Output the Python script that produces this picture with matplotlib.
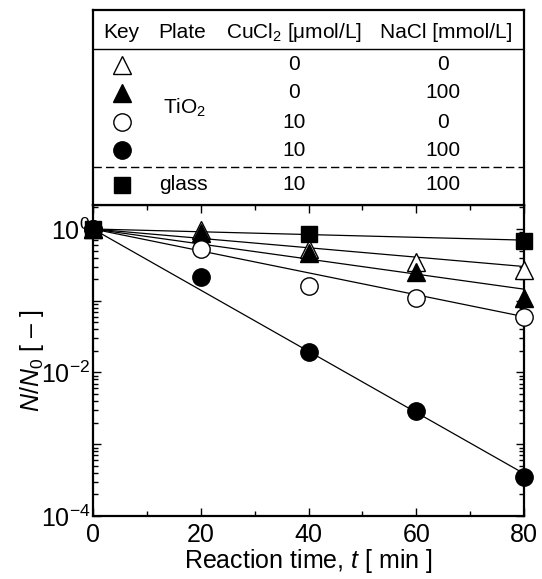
import matplotlib
matplotlib.use("Agg")
import matplotlib.pyplot as plt
import numpy as np
from matplotlib.ticker import LogLocator, FixedLocator, NullFormatter, MultipleLocator

plt.rcParams['font.family'] = ['Liberation Sans', 'DejaVu Sans']
plt.rcParams['mathtext.fontset'] = 'custom'
plt.rcParams['mathtext.rm'] = 'Liberation Sans'
plt.rcParams['mathtext.it'] = 'Liberation Sans:italic'
plt.rcParams['mathtext.bf'] = 'Liberation Sans:bold'

# ---- data ----
time_min = [0, 20, 40, 60, 80]
series_labels = ["TiO2, CuCl2 0, NaCl 0", "TiO2, CuCl2 0, NaCl 100",
                 "TiO2, CuCl2 10, NaCl 0", "TiO2, CuCl2 10, NaCl 100",
                 "glass, CuCl2 10, NaCl 100"]
open_triangle = [1.0, 0.97, 0.52, 0.35, 0.27]
filled_triangle = [1.0, 0.89, 0.46, 0.25, 0.11]
open_circle = [1.0, 0.52, 0.16, 0.108, 0.059]
filled_circle = [1.0, 0.216, 0.019, 0.0029, 3.5e-4]
filled_square = [1.0, None, 0.85, None, 0.67]
# fitted first-order lines: value at t=0 and t=80
fit_t = [0, 80]
fit_end = [0.30, 0.145, 0.060, 3.9e-4, 0.70]

# table content
tbl_header = ["Key", "Plate", "CuCl$_2$ [μmol/L]", "NaCl [mmol/L]"]
tbl_cucl2 = ["0", "0", "10", "10", "10"]
tbl_nacl = ["0", "100", "0", "100", "100"]
tbl_plate = [r"TiO$_2$", "glass"]

styles = [
    dict(marker='^', mfc='white', mec='black', ms=13),
    dict(marker='^', mfc='black', mec='black', ms=13),
    dict(marker='o', mfc='white', mec='black', ms=12.5),
    dict(marker='o', mfc='black', mec='black', ms=12.5),
    dict(marker='s', mfc='black', mec='black', ms=11),
]
series = [open_triangle, filled_triangle, open_circle, filled_circle, filled_square]

W, H = 542, 579
fig = plt.figure(figsize=(W / 100, H / 100), dpi=100)
L, R, B, T = 93, 524, 516, 205
ax = fig.add_axes([L / W, 1 - B / H, (R - L) / W, (B - T) / H])
tax = fig.add_axes([L / W, 1 - T / H, (R - L) / W, (T - 10) / H])

# fit lines
for end in fit_end:
    ax.plot(fit_t, [1.0, end], color='black', lw=0.9, zorder=2)
# points
for s, st in zip(series, styles):
    xs = [t for t, v in zip(time_min, s) if v is not None]
    ys = [v for v in s if v is not None]
    ax.plot(xs, ys, ls='none', mew=1.0, zorder=3, clip_on=False, **st)

ax.set_yscale('log')
ax.set_xlim(0, 80)
ax.set_ylim(1e-4, 2.16)
ax.xaxis.set_major_locator(MultipleLocator(20))
ax.xaxis.set_minor_locator(MultipleLocator(10))
ax.yaxis.set_major_locator(FixedLocator([1e-4, 1e-3, 1e-2, 1e-1, 1e0]))
ax.yaxis.set_minor_locator(LogLocator(base=10, subs=np.arange(2, 10), numticks=20))
ax.yaxis.set_minor_formatter(NullFormatter())
ax.set_yticklabels(['$10^{-4}$', '', '$10^{-2}$', '', '$10^{0}$'])
ax.tick_params(which='both', direction='in', top=True, right=True, width=1.0)
ax.tick_params(which='major', length=6, labelsize=18)
ax.tick_params(which='minor', length=3.5)
ax.tick_params(axis='x', pad=5)
ax.tick_params(axis='y', pad=2)
for sp in ax.spines.values():
    sp.set_linewidth(1.6)
ax.set_xlabel(r"Reaction time, $t$ [ min ]", fontsize=18, labelpad=0)
ax.set_ylabel(r"$N/N_0$ [ – ]", fontsize=18, labelpad=-4)

# ---- table ----
tax.set_xlim(L, R)
tax.set_ylim(T, 10)
tax.set_xticks([])
tax.set_yticks([])
for sp in tax.spines.values():
    sp.set_linewidth(1.6)
fs = 15
col_x = [121.5, 182, 294, 446]
for x, h in zip(col_x, tbl_header):
    tax.text(x, 32, h, ha='center', va='center', fontsize=fs)
tax.axhline(48.5, color='black', lw=1.0)
tax.axhline(167, color='black', lw=1.0, ls=(0, (6, 3)))
row_y = [65, 93, 122, 150, 185]
for y, st, c, n in zip(row_y, styles, tbl_cucl2, tbl_nacl):
    tax.plot([col_x[0]], [y], ls='none', mew=1.0, **st)
    tax.text(col_x[2], y, c, ha='center', va='center', fontsize=fs)
    tax.text(col_x[3] - 3, y, n, ha='center', va='center', fontsize=fs)
tax.text(185, 108, tbl_plate[0], ha='center', va='center', fontsize=fs)
tax.text(183, 185, tbl_plate[1], ha='center', va='center', fontsize=fs)

fig.savefig("out.png", dpi=100)
